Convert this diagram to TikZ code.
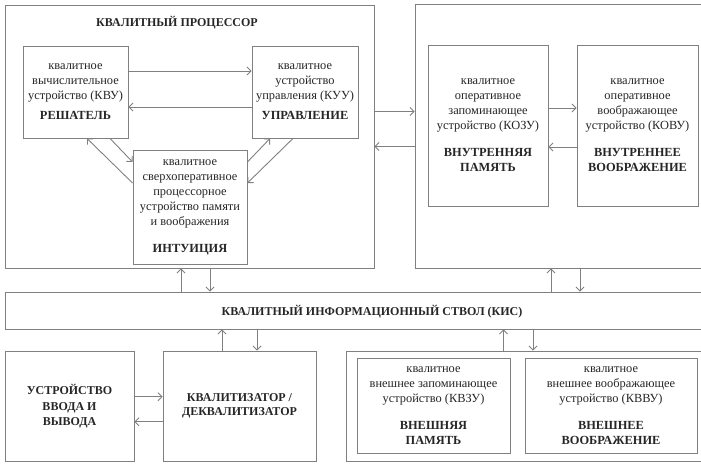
\documentclass[tikz,border=0pt]{standalone}
\usepackage{fontspec}
\setmainfont{Liberation Serif}
\usetikzlibrary{arrows.meta}
\begin{document}
\begin{tikzpicture}[x=1pt,y=-1pt,>={Straight Barb[length=4pt,width=8pt]},
 every node/.style={rectangle,inner sep=0pt,align=center,text=black!85,font=\fontsize{12.4}{15}\selectfont},
 box/.style={draw=black!50,line width=0.9pt},
 lbl/.style={font=\bfseries\fontsize{12}{15}\selectfont}]
 \useasboundingbox (0,0) rectangle (701,463);
 % processor
 \node[box,minimum width=369pt,minimum height=263pt] (proc) at (189.5,136.5) {};
 \node[lbl] (proctitle) at (177,23) {КВАЛИТНЫЙ ПРОЦЕССОР};
 \node[box,minimum width=105pt,minimum height=92pt] (kvu) at (75.5,92)
  {квалитное\\вычислительное\\устройство (КВУ)\\[5pt]\textbf{РЕШАТЕЛЬ}};
 \node[box,minimum width=106pt,minimum height=92pt] (kuu) at (305,92)
  {квалитное\\устройство\\управления (КУУ)\\[5pt]\textbf{УПРАВЛЕНИЕ}};
 \node[box,minimum width=114pt,minimum height=114pt] (intu) at (190,207)
  {квалитное\\сверхоперативное\\процессорное\\устройство памяти\\и воображения\\[12pt]\textbf{ИНТУИЦИЯ}};
 % internal memory
 \node[box,minimum width=288pt,minimum height=264pt] (mem) at (559,136) {};
 \node[box,minimum width=120pt,minimum height=161pt] (kozu) at (488,125.5)
  {квалитное\\оперативное\\запоминающее\\устройство (КОЗУ)\\[12pt]\textbf{ВНУТРЕННЯЯ}\\\textbf{ПАМЯТЬ}};
 \node[box,minimum width=121pt,minimum height=161pt] (kovu) at (637.5,125.5)
  {квалитное\\оперативное\\воображающее\\устройство (КОВУ)\\[12pt]\textbf{ВНУТРЕННЕЕ}\\\textbf{ВООБРАЖЕНИЕ}};
 % bus
 \node[box,minimum width=698pt,minimum height=37pt] (bus) at (354,310.5) {};
 \node[lbl] (bustext) at (372,312) {КВАЛИТНЫЙ ИНФОРМАЦИОННЫЙ СТВОЛ (КИС)};
 % bottom row
 \node[box,minimum width=129pt,minimum height=110.5pt,font=\bfseries\fontsize{12}{15.5}\selectfont] (io) at (69.5,406.25)
  {УСТРОЙСТВО\\ВВОДА И\\ВЫВОДА};
 \node[box,minimum width=153pt,minimum height=110.5pt,font=\bfseries\fontsize{12}{14}\selectfont] (qz) at (239.5,406.25)
  {КВАЛИТИЗАТОР /\\ДЕКВАЛИТИЗАТОР};
 \node[box,minimum width=357pt,minimum height=110.5pt] (ext) at (524.5,406.25) {};
 \node[box,minimum width=153pt,minimum height=95pt] (kvzu) at (433.5,406)
  {квалитное\\внешнее запоминающее\\устройство (КВЗУ)\\[12pt]\textbf{ВНЕШНЯЯ}\\\textbf{ПАМЯТЬ}};
 \node[box,minimum width=172pt,minimum height=95pt] (kvvu) at (611,406)
  {квалитное\\внешнее воображающее\\устройство (КВВУ)\\[12pt]\textbf{ВНЕШНЕЕ}\\\textbf{ВООБРАЖЕНИЕ}};

 \begin{scope}[draw=black!50,line width=0.9pt]
 \draw[->] ([yshift=21pt]kvu.east) -- ([yshift=21pt]kuu.west);
 \draw[->] ([yshift=-15pt]kuu.west) -- ([yshift=-15pt]kvu.east);
 \draw[->] ([xshift=34.5pt]kvu.south) -- ([yshift=45pt]intu.west);
 \draw[->] ([yshift=24pt]intu.west) -- ([xshift=11.5pt]kvu.south);
 \draw[->] ([yshift=45pt]intu.east) -- ([xshift=-35pt]kuu.south);
 \draw[->] ([xshift=-12pt]kuu.south) -- ([yshift=24pt]intu.east);
 \draw[->] ([yshift=25pt]proc.east) -- ([yshift=25pt]proc.east -| mem.west);
 \draw[->] ([yshift=-10.5pt]mem.west) -- ([yshift=-10.5pt]mem.west -| proc.east);
 \draw[->] ([yshift=17.5pt]kozu.east) -- ([yshift=17.5pt]kovu.west);
 \draw[->] ([yshift=-21.5pt]kovu.west) -- ([yshift=-21.5pt]kozu.east);
 \draw[->] ([xshift=-8.5pt]proc.south |- bus.north) -- ([xshift=-8.5pt]proc.south);
 \draw[->] ([xshift=20.5pt]proc.south) -- ([xshift=20.5pt]proc.south |- bus.north);
 \draw[->] ([xshift=-8pt]mem.south |- bus.north) -- ([xshift=-8pt]mem.south);
 \draw[->] ([xshift=21pt]mem.south) -- ([xshift=21pt]mem.south |- bus.north);
 \draw[->] ([xshift=-17.5pt]qz.north) -- ([xshift=-17.5pt]qz.north |- bus.south);
 \draw[->] ([xshift=17.5pt]qz.north |- bus.south) -- ([xshift=17.5pt]qz.north);
 \draw[->] ([xshift=-21pt]ext.north) -- ([xshift=-21pt]ext.north |- bus.south);
 \draw[->] ([xshift=8.5pt]ext.north |- bus.south) -- ([xshift=8.5pt]ext.north);
 \draw[->] ([yshift=9.5pt]io.east) -- ([yshift=9.5pt]qz.west);
 \draw[->] ([yshift=-15.5pt]qz.west) -- ([yshift=-15.5pt]io.east);
 \end{scope}
\end{tikzpicture}
\end{document}
